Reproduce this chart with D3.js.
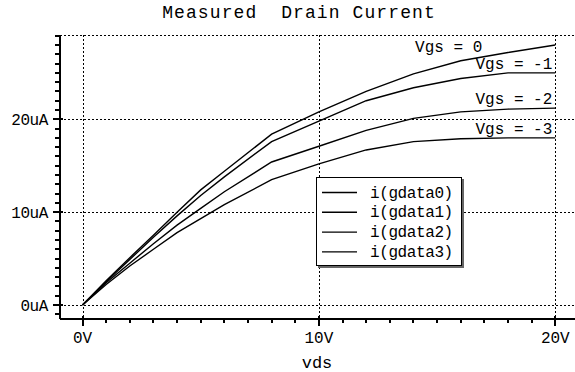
<!DOCTYPE html>
<html>
<head>
<meta charset="utf-8">
<script src="https://cdn.jsdelivr.net/npm/d3@7"></script>
<style>
  body { margin: 0; background: #fff; }
  text { font-family: "Liberation Mono", "DejaVu Sans Mono", monospace; fill: #000; }
</style>
</head>
<body>
<svg width="575" height="372"></svg>
<script>
// measured points (Vds in volts, Id in uA)
const vds = [0, 1, 2, 3, 4, 5, 6, 8, 10, 12, 14, 16, 18, 20];
const id0 = [0, 2.6, 5.1, 7.5, 10.0, 12.4, 14.4, 18.4, 20.8, 23.0, 24.9, 26.3, 27.2, 28.0];
const id1 = [0, 2.5, 4.9, 7.3, 9.6, 11.8, 13.8, 17.6, 19.8, 22.0, 23.4, 24.4, 25.0, 25.0];
const id2 = [0, 2.4, 4.5, 6.6, 8.6, 10.4, 12.2, 15.4, 17.1, 18.8, 20.1, 20.8, 21.1, 21.2];
const id3 = [0, 2.2, 4.2, 6.0, 7.8, 9.3, 10.8, 13.5, 15.2, 16.7, 17.6, 17.9, 18.0, 18.0];
const seriesNames = ['i(gdata0)', 'i(gdata1)', 'i(gdata2)', 'i(gdata3)'];
const curveLabels = ['Vgs = 0', 'Vgs = -1', 'Vgs = -2', 'Vgs = -3'];
const xTicks = [0, 10, 20];
const xTickLabels = ['0V', '10V', '20V'];
const yTicks = [0, 10, 20];
const yTickLabels = ['0uA', '10uA', '20uA'];

const svg = d3.select('svg');
const width = +svg.attr('width');
const height = +svg.attr('height');

const x = d3.scaleLinear().domain([0, 20]).range([82.5, 555.3]);
const y = d3.scaleLinear().domain([0, 20]).range([305, 119.3]);

const plotLeft = 60;
const plotBottom = 319;
const plotTop = 34.5;

// dotted grid
const grid = svg.append('g')
    .attr('stroke', '#000')
    .attr('stroke-width', 1)
    .attr('stroke-dasharray', '2,2')
    .attr('shape-rendering', 'crispEdges');

grid.selectAll('.gx').data(xTicks).join('line')
    .attr('x1', d => Math.round(x(d)) + 0.5).attr('x2', d => Math.round(x(d)) + 0.5)
    .attr('y1', plotTop).attr('y2', plotBottom);

grid.selectAll('.gy').data(yTicks).join('line')
    .attr('x1', plotLeft).attr('x2', width)
    .attr('y1', d => Math.round(y(d)) + 0.5).attr('y2', d => Math.round(y(d)) + 0.5);

grid.append('line')
    .attr('x1', plotLeft).attr('x2', width)
    .attr('y1', plotTop + 0.5).attr('y2', plotTop + 0.5);

// axes
const axes = svg.append('g')
    .attr('stroke', '#000')
    .attr('stroke-width', 1.3)
    .attr('shape-rendering', 'crispEdges');

axes.append('line').attr('x1', plotLeft).attr('x2', plotLeft).attr('y1', plotTop).attr('y2', plotBottom);
axes.append('line').attr('x1', plotLeft).attr('x2', width).attr('y1', plotBottom).attr('y2', plotBottom);

// minor ticks every 1 uA and 1 V
const yMinor = d3.range(-1, 30).filter(v => y(v) > plotTop && y(v) < plotBottom);
axes.selectAll('.ym').data(yMinor).join('line')
    .attr('x1', plotLeft - 5).attr('x2', plotLeft)
    .attr('y1', d => Math.round(y(d))).attr('y2', d => Math.round(y(d)));
axes.selectAll('.yM').data(yTicks).join('line')
    .attr('x1', plotLeft - 7).attr('x2', plotLeft + 3)
    .attr('y1', d => Math.round(y(d))).attr('y2', d => Math.round(y(d)));

const xMinor = d3.range(-1, 23).filter(v => x(v) > plotLeft && x(v) < width);
axes.selectAll('.xm').data(xMinor).join('line')
    .attr('x1', d => Math.round(x(d))).attr('x2', d => Math.round(x(d)))
    .attr('y1', plotBottom).attr('y2', plotBottom + 4);
axes.selectAll('.xM').data(xTicks).join('line')
    .attr('x1', d => Math.round(x(d))).attr('x2', d => Math.round(x(d)))
    .attr('y1', plotBottom - 3).attr('y2', plotBottom + 7);

// tick labels
svg.selectAll('.xl').data(xTicks).join('text')
    .attr('x', d => x(d)).attr('y', 343)
    .attr('text-anchor', 'middle')
    .attr('font-size', 16)
    .text((d, i) => xTickLabels[i]);

svg.selectAll('.yl').data(yTicks).join('text')
    .attr('x', 48).attr('y', d => y(d) + 6)
    .attr('text-anchor', 'end')
    .attr('font-size', 16)
    .attr('letter-spacing', -0.4)
    .text((d, i) => yTickLabels[i]);

svg.append('text')
    .attr('x', 317).attr('y', 368)
    .attr('text-anchor', 'middle')
    .attr('font-size', 17)
    .text('vds');

svg.append('text')
    .attr('x', 299).attr('y', 18)
    .attr('text-anchor', 'middle')
    .attr('font-size', 18)
    .attr('letter-spacing', 1.1)
    .style('white-space', 'pre')
    .text('Measured  Drain Current');

// curves
const series = [id0, id1, id2, id3];
const line = d3.line()
    .x((d, i) => x(vds[i]))
    .y(d => y(d));

svg.append('g').selectAll('path').data(series).join('path')
    .attr('d', d => line(d))
    .attr('fill', 'none')
    .attr('stroke', '#000')
    .attr('stroke-width', 1.4);

// curve labels
const last = vds.length - 1;
svg.selectAll('.cl').data(series).join('text')
    .attr('x', (d, i) => i === 0 ? x(vds[last]) - 73 : x(vds[last]) - 3)
    .attr('y', (d, i) => i === 0 ? y(d[last]) + 7 : y(d[last]) - 4)
    .attr('text-anchor', 'end')
    .attr('font-size', 16)
    .style('white-space', 'pre')
    .text((d, i) => curveLabels[i]);

// legend
const legend = svg.append('g').attr('transform', 'translate(316,177)');
legend.append('rect')
    .attr('x', 2).attr('y', 2).attr('width', 146).attr('height', 89)
    .attr('fill', '#666');
legend.append('rect')
    .attr('x', 0.5).attr('y', 0.5).attr('width', 145).attr('height', 88)
    .attr('fill', '#fff').attr('stroke', '#000').attr('stroke-width', 1);

const rows = legend.selectAll('.row').data(seriesNames).join('g')
    .attr('transform', (d, i) => `translate(0,${15.5 + i * 19.8})`);
rows.append('line')
    .attr('x1', 6).attr('x2', 41)
    .attr('stroke', '#000').attr('stroke-width', 1.4);
rows.append('text')
    .attr('x', 54).attr('y', 5)
    .attr('font-size', 16)
    .attr('letter-spacing', -0.4)
    .text(d => d);
</script>
</body>
</html>
